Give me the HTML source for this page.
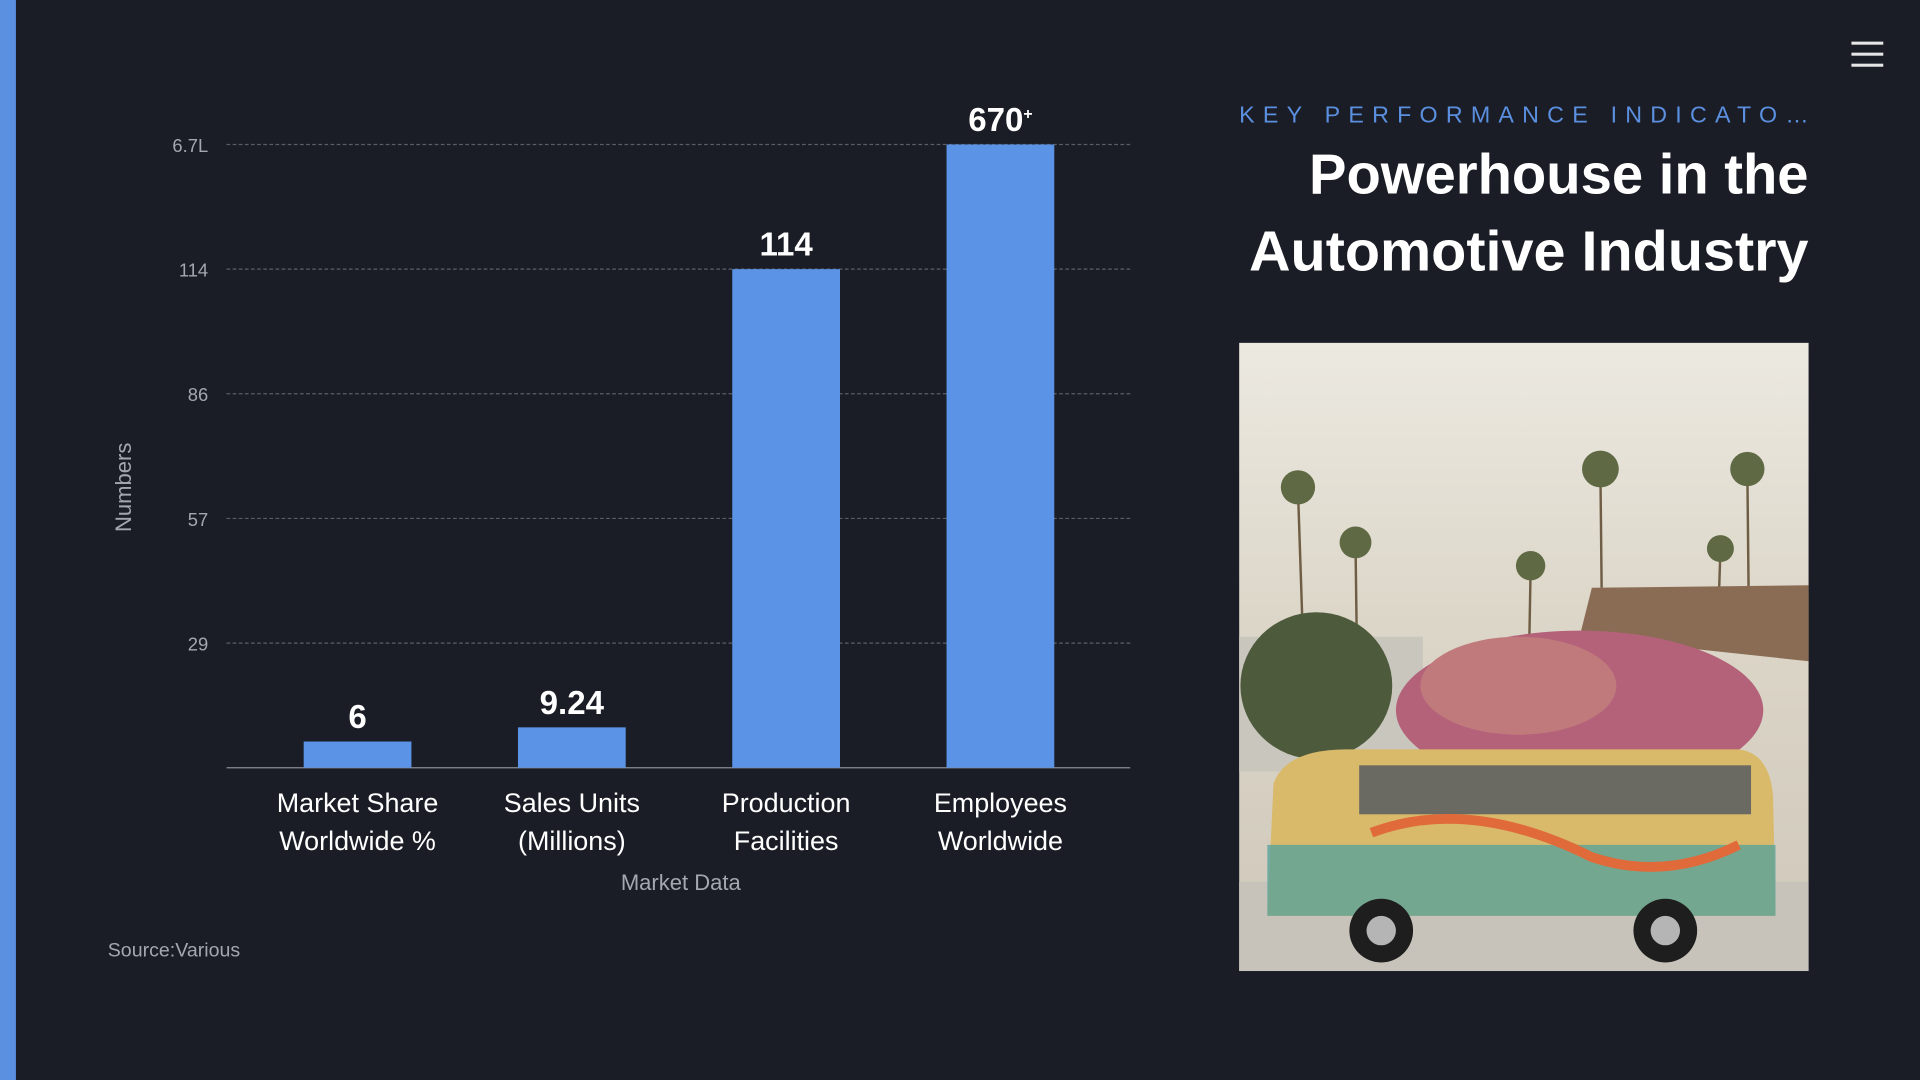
<!DOCTYPE html>
<html><head><meta charset="utf-8"><style>
html,body{margin:0;padding:0;background:#1a1d25;width:1920px;height:1080px;overflow:hidden}
svg{display:block}
text{font-family:"Liberation Sans",sans-serif}
</style></head><body>
<svg id="c" width="1920" height="1080" viewBox="0 0 1568 882">
<defs>
<linearGradient id="sky" x1="0" y1="0" x2="0" y2="1">
<stop offset="0" stop-color="#ece9e1"/><stop offset="0.45" stop-color="#dcd6c8"/><stop offset="1" stop-color="#cfc8ba"/></linearGradient>
</defs>
<rect x="0" y="0" width="1568" height="882" fill="#1a1d25"/>
<rect x="0" y="0" width="13" height="882" fill="#5b8fe0"/>
<g fill="#e6e6e6">
<rect x="1512" y="34" width="26" height="2.5"/><rect x="1512" y="43" width="26" height="2.5"/><rect x="1512" y="52" width="26" height="2.5"/></g>
<g id="grid"></g>
<g id="bars"></g>
<text x="107" y="398" fill="#a4a7ae" font-size="18" text-anchor="middle" transform="rotate(-90 107 398)">Numbers</text>
<text x="556" y="727" fill="#a4a7ae" font-size="18" text-anchor="middle">Market Data</text>
<text x="88" y="781" fill="#a4a7ae" font-size="16">Source:Various</text>
<text x="1012" y="100" fill="#5b8fe0" font-size="19" textLength="465" lengthAdjust="spacing">KEY PERFORMANCE INDICATO…</text>
<text x="1069" y="158" fill="#ffffff" font-size="46" font-weight="bold" textLength="408" lengthAdjust="spacingAndGlyphs">Powerhouse in the</text>
<text x="1020" y="221" fill="#ffffff" font-size="46" font-weight="bold" textLength="457" lengthAdjust="spacingAndGlyphs">Automotive Industry</text>
<g>
<rect x="1012" y="280" width="465" height="513" fill="url(#sky)"/>
<g stroke="#6f5e45" stroke-width="2">
<line x1="1060" y1="400" x2="1064" y2="520"/><line x1="1107" y1="445" x2="1108" y2="520"/>
<line x1="1307" y1="385" x2="1308" y2="480"/><line x1="1427" y1="385" x2="1428" y2="480"/>
<line x1="1250" y1="465" x2="1249" y2="520"/><line x1="1405" y1="450" x2="1404" y2="480"/></g>
<g fill="#5f6a45"><circle cx="1060" cy="398" r="14"/><circle cx="1107" cy="443" r="13"/><circle cx="1307" cy="383" r="15"/><circle cx="1427" cy="383" r="14"/><circle cx="1250" cy="462" r="12"/><circle cx="1405" cy="448" r="11"/></g>
<polygon points="1300,480 1477,478 1477,540 1290,520" fill="#8a6c55"/>
<rect x="1012" y="520" width="150" height="110" fill="#c9c6bd"/>
<ellipse cx="1075" cy="560" rx="62" ry="60" fill="#4d5a3c"/>
<ellipse cx="1290" cy="580" rx="150" ry="65" fill="#b4627a"/>
<ellipse cx="1240" cy="560" rx="80" ry="40" fill="#c07a7c"/>
<rect x="1012" y="720" width="465" height="73" fill="#c7c3bb"/>
<path d="M1040 640 Q1050 612 1100 612 L1420 612 Q1445 615 1448 650 L1450 748 L1035 748 Z" fill="#d9b96a"/>
<rect x="1110" y="625" width="320" height="40" fill="#6a6a62"/>
<path d="M1035 690 L1450 690 L1450 748 L1035 748 Z" fill="#5aa39a" opacity="0.8"/>
<path d="M1120 680 Q1200 650 1300 700 Q1360 720 1420 690" stroke="#e06a3a" stroke-width="8" fill="none"/>
<circle cx="1128" cy="760" r="26" fill="#1e1e1e"/><circle cx="1128" cy="760" r="12" fill="#b5b5b5"/>
<circle cx="1360" cy="760" r="26" fill="#1e1e1e"/><circle cx="1360" cy="760" r="12" fill="#b5b5b5"/>
</g>
</svg>
<script>
const categories=[["Market Share","Worldwide %"],["Sales Units","(Millions)"],["Production","Facilities"],["Employees","Worldwide"]];
const values=[6,9.24,114,670];
const valueLabels=["6","9.24","114","670"];
const tickValues=[28.5,57,85.5,114,142.5];
const tickLabels=["29","57","86","114","6.7L"];
const axisMax=142.5;
const NS="http://www.w3.org/2000/svg";
const x0=185,x1=923,yBase=627,yTop=118;
function yScale(v){return yBase-(Math.min(v,axisMax)/axisMax)*(yBase-yTop);}
const band=175,firstCenter=292;
function xCenter(i){return firstCenter+band*i;}
function mk(tag,attrs,parent){const e=document.createElementNS(NS,tag);for(const k in attrs)e.setAttribute(k,attrs[k]);parent.appendChild(e);return e;}
const grid=document.getElementById('grid'),bars=document.getElementById('bars');
tickValues.forEach((t,i)=>{
 const y=yScale(t);
 const l=mk('line',{x1:x0,x2:x1,y1:y,y2:y,stroke:'#5a5e66','stroke-width':1,'stroke-dasharray':'3,2'},grid);
 
 
 const tx=mk('text',{x:170,y:y+6,fill:'#a4a7ae','font-size':15,'text-anchor':'end'},grid);
 tx.textContent=tickLabels[i];
 
 
});
const ax=mk('line',{x1:x0,x2:x1,y1:yBase,y2:yBase,stroke:'#8a8d94','stroke-width':1},grid);


values.forEach((v,i)=>{
 const cx=xCenter(i),y=yScale(v);
 const r=mk('rect',{x:cx-44,y:y,width:88,height:yBase-y,fill:'#5b93e6'},bars);
 
 
 const t=mk('text',{x:cx,y:y-11,fill:'#ffffff','font-size':27,'font-weight':'bold','text-anchor':'middle'},bars);
 t.textContent=valueLabels[i];
 if(v>axisMax){const s=mk('tspan',{'font-size':13,dy:-10},t);s.textContent='+';}
 
 
 categories[i].forEach((ln,j)=>{
  const c=mk('text',{x:cx,y:663+j*31,fill:'#ffffff','font-size':22,'text-anchor':'middle'},bars);
  c.textContent=ln;
  
  
 });
});
</script>
</body></html>
